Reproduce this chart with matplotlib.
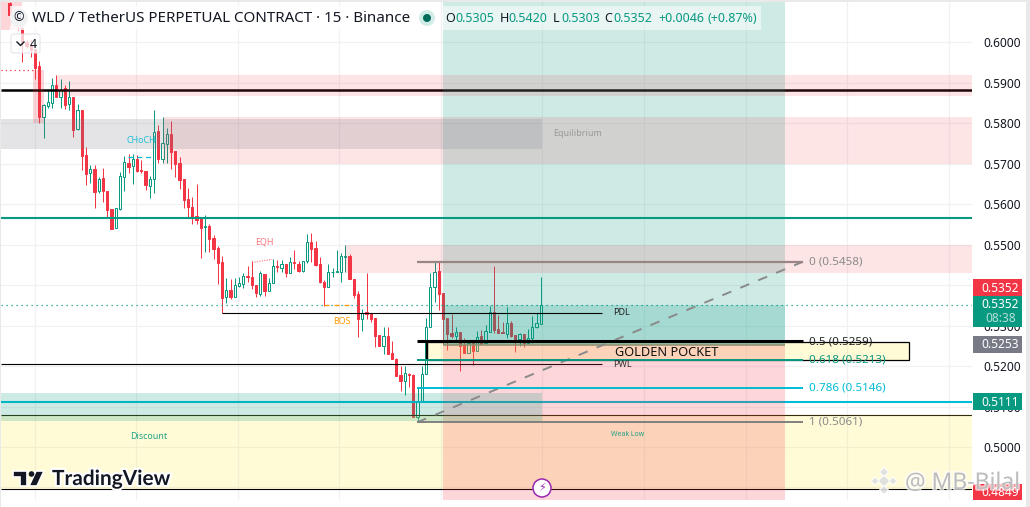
import matplotlib
matplotlib.use("Agg")
import matplotlib.pyplot as plt
import matplotlib.patheffects as pe
from matplotlib.patches import Rectangle, Polygon, Circle, FancyBboxPatch
from matplotlib.transforms import Affine2D
from matplotlib.ticker import FormatStrFormatter

W, H = 1030, 507
plt.rcParams['font.family'] = ['Noto Sans', 'DejaVu Sans']

# ---------- data ----------
opens = [.6098,.6068,.6055,.6036,.6001,.5993,.5983,.5942,.5816,.5843,.5850,.5895,.5865,.5887,.5848,.5865,
 .5786,.5833,.5722,.5677,.5687,.5633,.5665,.5633,.5588,.5541,.5588,.5667,.5702,.5695,.5712,.5685,
 .5682,.5645,.5663,.5781,.5712,.5749,.5774,.5731,.5702,.5663,.5613,.5593,.5571,.5566,.5544,.5546,
 .5517,.5492,.5457,.5371,.5388,.5371,.5398,.5403,.5423,.5420,.5400,.5378,.5428,.5386,.5405,.5447,
 .5442,.5452,.5430,.5457,.5452,.5435,.5460,.5507,.5492,.5452,.5408,.5396,.5432,.5433,.5433,.5470,
 .5472,.5415,.5378,.5316,.5334,.5329,.5319,.5277,.5250,.5274,.5232,.5218,.5178,.5163,.5180,.5178,
 .5074,.5114,.5180,.5297,.5396,.5435,.5381,.5319,.5282,.5274,.5284,.5252,.5232,.5257,.5237,.5274,
 .5257,.5284,.5334,.5292,.5284,.5279,.5306,.5277,.5267,.5279,.5257,.5269,.5297,.5305]
highs = [.6100,.6075,.6060,.6041,.6006,.6006,.5983,.5954,.5848,.5885,.5912,.5920,.5910,.5895,.5905,.5865,
 .5848,.5833,.5741,.5697,.5697,.5667,.5690,.5633,.5588,.5591,.5680,.5719,.5724,.5724,.5722,.5710,
 .5682,.5670,.5833,.5796,.5816,.5788,.5806,.5731,.5717,.5663,.5640,.5618,.5650,.5566,.5574,.5551,
 .5524,.5497,.5472,.5418,.5415,.5418,.5420,.5430,.5447,.5460,.5400,.5435,.5428,.5418,.5465,.5462,
 .5462,.5452,.5470,.5487,.5460,.5460,.5527,.5529,.5509,.5470,.5413,.5452,.5442,.5487,.5480,.5499,
 .5477,.5415,.5386,.5341,.5430,.5331,.5319,.5277,.5297,.5297,.5262,.5220,.5200,.5200,.5183,.5180,
 .5148,.5200,.5319,.5430,.5458,.5458,.5381,.5319,.5329,.5297,.5284,.5269,.5265,.5257,.5287,.5289,
 .5302,.5349,.5447,.5326,.5309,.5346,.5311,.5277,.5282,.5279,.5292,.5324,.5331,.5420]
lows = [.6043,.6043,.6031,.5952,.5987,.5964,.5910,.5801,.5764,.5838,.5838,.5865,.5838,.5835,.5833,.5766,
 .5784,.5685,.5648,.5653,.5591,.5628,.5606,.5569,.5539,.5541,.5586,.5633,.5677,.5650,.5680,.5677,
 .5635,.5616,.5628,.5702,.5702,.5702,.5687,.5667,.5638,.5591,.5566,.5551,.5551,.5467,.5482,.5482,
 .5465,.5403,.5331,.5356,.5366,.5371,.5396,.5393,.5408,.5391,.5371,.5373,.5373,.5386,.5405,.5433,
 .5433,.5420,.5430,.5440,.5433,.5433,.5455,.5457,.5447,.5405,.5349,.5396,.5420,.5433,.5408,.5433,
 .5415,.5368,.5272,.5287,.5316,.5309,.5247,.5250,.5230,.5230,.5218,.5175,.5138,.5129,.5148,.5074,
 .5062,.5114,.5180,.5297,.5358,.5339,.5255,.5240,.5269,.5265,.5188,.5232,.5232,.5203,.5237,.5255,
 .5255,.5284,.5282,.5282,.5282,.5269,.5272,.5235,.5250,.5247,.5257,.5257,.5294,.5303]
closes = [.6068,.6055,.6041,.6001,.5992,.5981,.5937,.5816,.5845,.5853,.5895,.5865,.5883,.5845,.5865,.5784,
 .5833,.5719,.5675,.5687,.5630,.5663,.5633,.5586,.5539,.5591,.5670,.5705,.5692,.5712,.5682,.5682,
 .5648,.5663,.5779,.5712,.5751,.5774,.5729,.5699,.5660,.5611,.5593,.5569,.5561,.5541,.5546,.5514,
 .5490,.5455,.5368,.5388,.5371,.5400,.5405,.5423,.5420,.5400,.5381,.5430,.5386,.5405,.5447,.5445,
 .5452,.5430,.5457,.5455,.5435,.5460,.5507,.5490,.5450,.5408,.5396,.5433,.5433,.5435,.5472,.5472,
 .5415,.5376,.5316,.5331,.5329,.5316,.5274,.5250,.5274,.5230,.5218,.5175,.5163,.5183,.5178,.5074,
 .5114,.5180,.5297,.5396,.5433,.5378,.5316,.5279,.5274,.5284,.5250,.5232,.5257,.5237,.5272,.5255,
 .5287,.5334,.5289,.5282,.5282,.5306,.5274,.5265,.5279,.5257,.5269,.5297,.5306,.5352]

price_ticks = [.60,.59,.58,.57,.56,.55,.54,.53,.52,.51,.50,.49]
time_grid = [5.9,29.8,53.7,77.6,101.5,125.4,149.3,173.2,197.1,221.0]

fib_levels = [.5458,.5261,.5216,.5146,.5061]
fib_labels = ['0 (0.5458)','0.5 (0.5259)','0.618 (0.5213)','0.786 (0.5146)','1 (0.5061)']
fib_colors = ['#9a8585','#000000','#089981','#00bcd4','#808080']
fib_text_colors = ['#8a8a8a','#222222','#089981','#00bcd4','#8a8a8a']
fib_widths = [1.6,2.2,1.4,1.4,1.4]

LEFT, RIGHT = -2.01, 226.47
PLOT_TOP, PLOT_BOTTOM = .6100, .4869

# ---------- scaffolding ----------
fig = plt.figure(figsize=(W/100, H/100), dpi=100, facecolor='white')
px = Affine2D().scale(1/W, -1/H).translate(0, 1) + fig.transFigure

def frect(x0, y0, x1, y1, color, alpha=1, z=10, **kw):
    fig.add_artist(Rectangle((x0, y0), x1-x0, y1-y0, transform=px, facecolor=color,
                             edgecolor='none', alpha=alpha, zorder=z, **kw))

def ftext(x, y, s, color='#131722', size=9, ha='left', va='center', z=12, **kw):
    return fig.text(x, y, s, transform=px, color=color, fontsize=size, ha=ha, va=va, zorder=z, **kw)

ax = fig.add_axes([1/W, (H-500)/H, 971/W, 498/H])
ax.set_xlim(LEFT, RIGHT)
ax.set_ylim(PLOT_BOTTOM, PLOT_TOP)
for s in ax.spines.values():
    s.set_visible(False)
ax.set_axisbelow(True)
ax.set_xticks(time_grid)
ax.set_xticklabels([])
ax.set_yticks(price_ticks)
ax.yaxis.set_major_formatter(FormatStrFormatter('%.4f'))
ax.yaxis.tick_right()
ax.tick_params(axis='both', length=0)
ax.tick_params(axis='y', pad=8, labelsize=8.6, labelcolor='#131722')
ax.grid(True, color='#f1f1f3', lw=0.9)

# ---------- candles ----------
UP, DOWN = '#089981', '#f23645'
for i, (o, h, l, c) in enumerate(zip(opens, highs, lows, closes)):
    col = UP if c >= o else DOWN
    ax.vlines(i, l, h, color=col, lw=0.72, zorder=2)
    ax.add_patch(Rectangle((i-.27, min(o, c)), .54, max(abs(c-o), 1e-5),
                           facecolor='white' if c >= o else DOWN, edgecolor=col, lw=0.72, zorder=2.1))

def zone(x0, x1, top, bottom, color, alpha, z):
    ax.add_patch(Rectangle((x0, bottom), x1-x0, top-bottom, facecolor=color, edgecolor='none', alpha=alpha, zorder=z))

# long lines sit under the tinted zones
ax.hlines(.5883, LEFT, RIGHT, color='black', lw=1.8, zorder=2.5)
ax.hlines(.5566, LEFT, RIGHT, color=UP, lw=1.5, zorder=2.5)
ax.hlines(.5111, LEFT, RIGHT, color='#00bcd4', lw=1.5, zorder=2.5)
ax.hlines(.5079, LEFT, RIGHT, color='black', lw=.8, zorder=2.5)
ax.hlines(.4896, LEFT, RIGHT, color='black', lw=.8, zorder=2.5)
ax.hlines(.5205, LEFT, 139.4, color='black', lw=.8, zorder=2.5)
ax.hlines(.5352, LEFT, RIGHT, color=UP, lw=.9, linestyles=(0, (1, 3)), zorder=2.5)
ax.hlines(.5932, LEFT, 5.6, color=DOWN, lw=.9, linestyles=(0, (1, 2.5)), zorder=2.5)

# yellow zones lie below the position tool
zone(LEFT, RIGHT, .5079, .4896, '#ffeb3b', .2, 3)
zone(98.2, 211.6, .5260, .5215, '#ffeb3b', .2, 3)
# supply/demand zones
zone(LEFT, 2.9, .6100, .6030, DOWN, .2, 3.1)
zone(5.6, 8.1, .5932, .5800, DOWN, .2, 3.1)
zone(11.1, RIGHT, .5920, .5868, DOWN, .13, 3.3)
zone(36, RIGHT, .5816, .5700, DOWN, .13, 3.3)
zone(79, RIGHT, .5500, .5430, DOWN, .13, 3.3)
zone(LEFT, 125.3, .5811, .5737, '#787b86', .2, 3.4)
# position tool
zone(102, 182.5, PLOT_TOP, .5253, UP, .2, 3.2)
zone(102, 182.5, .5352, .5253, UP, .2, 3.2)
zone(102, 182.5, .5253, PLOT_BOTTOM, DOWN, .2, 3.2)
zone(LEFT, 125.3, .5133, .5064, UP, .2, 3.4)

ax.hlines(.5253, 102, 182.5, color='#8c8c6e', lw=1.1, zorder=3.5)
ax.add_patch(Rectangle((98.2, .5215), 113.4, .0045, facecolor='none', edgecolor='black', lw=.9, zorder=4))
ax.vlines(98.2, .5215, .5260, color='black', lw=1.6, zorder=4)
ax.text(154.6, .5234, 'GOLDEN POCKET', color='#111111', fontsize=9.2, ha='center', va='center', zorder=5)

# PDL / PWL
ax.hlines(.5332, 50, 139.4, color='black', lw=.8, zorder=4)
ax.text(142, .5332, 'PDL', color='#222222', fontsize=6.5, va='center', zorder=5)
ax.text(142, .5205, 'PWL', color='#333333', fontsize=6.5, va='center', zorder=5)

# fib tool
ax.plot([95.9, 186.7], [fib_levels[4], fib_levels[0]], color='#8a8a8a', lw=1.4, ls=(0, (5, 5)), zorder=4)
for v, lab, col, tc, lw in zip(fib_levels, fib_labels, fib_colors, fib_text_colors, fib_widths):
    ax.hlines(v, 95.9, 186.7, color=col, lw=lw, zorder=4.1)
    ax.text(188.1, v + (-.0001 if lab.startswith('0.5') else 0), lab, color=tc, fontsize=8.4, va='center', zorder=5)

# smart-money labels
ax.text(27.6, .5757, 'CHoCH', color='#00bcd4', fontsize=6.4, va='center', alpha=.85, zorder=5)
ax.hlines(.5717, 27.8, 34, color='#00bcd4', lw=.9, ls=(0, (4, 3)), zorder=5)
ax.text(57.8, .5507, 'EQH', color='#f7525f', fontsize=6.4, va='center', alpha=.8, zorder=5)
ax.plot([57, 61.8], [.5456, .5464], color='#f7525f', lw=.9, ls=(0, (1, 1)), alpha=.7, zorder=5)
ax.text(76.1, .5309, 'BOS', color='#ff9800', fontsize=6.4, va='center', zorder=5)
ax.hlines(.5351, 74, 81, color='#ff9800', lw=.9, ls=(0, (4, 4)), zorder=5)
ax.text(28.4, .5025, 'Discount', color='#089981', fontsize=6.4, va='center', alpha=.9, zorder=5)
ax.text(141.5, .5032, 'Weak Low', color='#089981', fontsize=5, va='center', alpha=.9, zorder=5)
ax.text(128, .5775, 'Equilibrium', color='#999999', fontsize=6.4, va='center', zorder=5)

# ---------- legend overlay ----------
frect(10, 6, 440, 30, 'white', .8, z=8)
frect(443, 6, 761, 30, 'white', .55, z=8)
fig.add_artist(Circle((19, 18), 9, transform=px, facecolor='#f0f1f2', edgecolor='none', zorder=9))
ftext(19, 18, '\u00a9', size=9, ha='center', weight='bold')
ftext(32, 18, 'WLD / TetherUS PERPETUAL CONTRACT \u00b7 15 \u00b7 Binance', color='#131722', size=10.9)
fig.add_artist(Circle((427, 18), 8, transform=px, facecolor='#d2ece8', edgecolor='none', zorder=9))
fig.add_artist(Circle((427, 18), 4, transform=px, facecolor='#006b5b', edgecolor='none', zorder=9.5))
for x, t, c in [(445, 'O', '#131722'), (455, '0.5305', UP), (500, 'H', '#131722'), (508, '0.5420', UP),
                (553, 'L', '#131722'), (561, '0.5303', UP), (604, 'C', '#131722'), (613, '0.5352', UP),
                (658, '+0.0046', UP), (707, '(+0.87%)', UP)]:
    ftext(x, 18, t, color=c, size=9)
fig.add_artist(FancyBboxPatch((11, 34), 29, 19, boxstyle='round,pad=0,rounding_size=3', transform=px,
                              facecolor='white', edgecolor='#dfe1e6', lw=.9, alpha=.75, zorder=9))
ftext(33, 44, '4', size=9, ha='center')
fig.add_artist(plt.Line2D([17, 20.5, 24], [42, 45.5, 42], transform=px, color='#131722', lw=1, zorder=12))

# ---------- price chips ----------
for y0, y1, col in [(279, 296, DOWN), (296, 327, UP), (336, 353, '#787b86'), (393, 410, UP), (484, 500, DOWN)]:
    frect(973, y0, 1022, y1, col, z=11)
for y, t, c in [(288, '0.5352', 'white'), (304.5, '0.5352', 'white'), (318.5, '08:38', '#b5e0d8'),
                (345, '0.5253', 'white'), (402, '0.5111', 'white'), (492, '0.4849', 'white')]:
    ftext(1000.5, y, t, color=c, size=8.6, ha='center', weight='medium')

# ---------- watermarks ----------
halo = [pe.withStroke(linewidth=3, foreground='white')]
t = ftext(52, 479, 'TradingView', color='#131722', size=15, family='Lato', weight='bold')
t.set_path_effects(halo)
for poly in ([(13, 471), (27, 471), (27, 486), (20, 486), (20, 477), (13, 477)],
             [(36, 471), (44, 471), (37, 486), (29, 486)]):
    fig.add_artist(Polygon(poly, closed=True, transform=px, facecolor='#131722', edgecolor='white', lw=1.2, zorder=12))
fig.add_artist(Circle((31.5, 474), 2.8, transform=px, facecolor='#131722', edgecolor='none', zorder=12))

fig.add_artist(Circle((542, 488), 9, transform=px, facecolor='white', edgecolor='#9c27b0', lw=1.1, zorder=12))
ftext(542, 488, '\u26a1', color='#9c27b0', size=8, ha='center', family='DejaVu Sans')

for cx, cy, r in [(884, 481, 6), (875, 481, 4), (893, 481, 4), (884, 472, 4.5), (884, 490, 4.5)]:
    fig.add_artist(Polygon([(cx-r, cy), (cx, cy-r), (cx+r, cy), (cx, cy+r)], closed=True, transform=px,
                           facecolor='#dddddd', edgecolor='white', lw=.8, alpha=.9, zorder=13))
t = ftext(905, 483, '@ MB-Bilal', color='#b8b8b8', size=16.5, alpha=.9, z=13)
t.set_path_effects([pe.withStroke(linewidth=2.5, foreground='white', alpha=.7)])

# ---------- outer frame ----------
frect(0, 0, W, 2, '#e9e9e9', z=14)
frect(0, 0, 1, H, '#e9e9e9', z=14)
frect(1026, 0, W, H, '#e9e9e9', z=14)

fig.savefig('out.png', dpi=100, facecolor='white')
